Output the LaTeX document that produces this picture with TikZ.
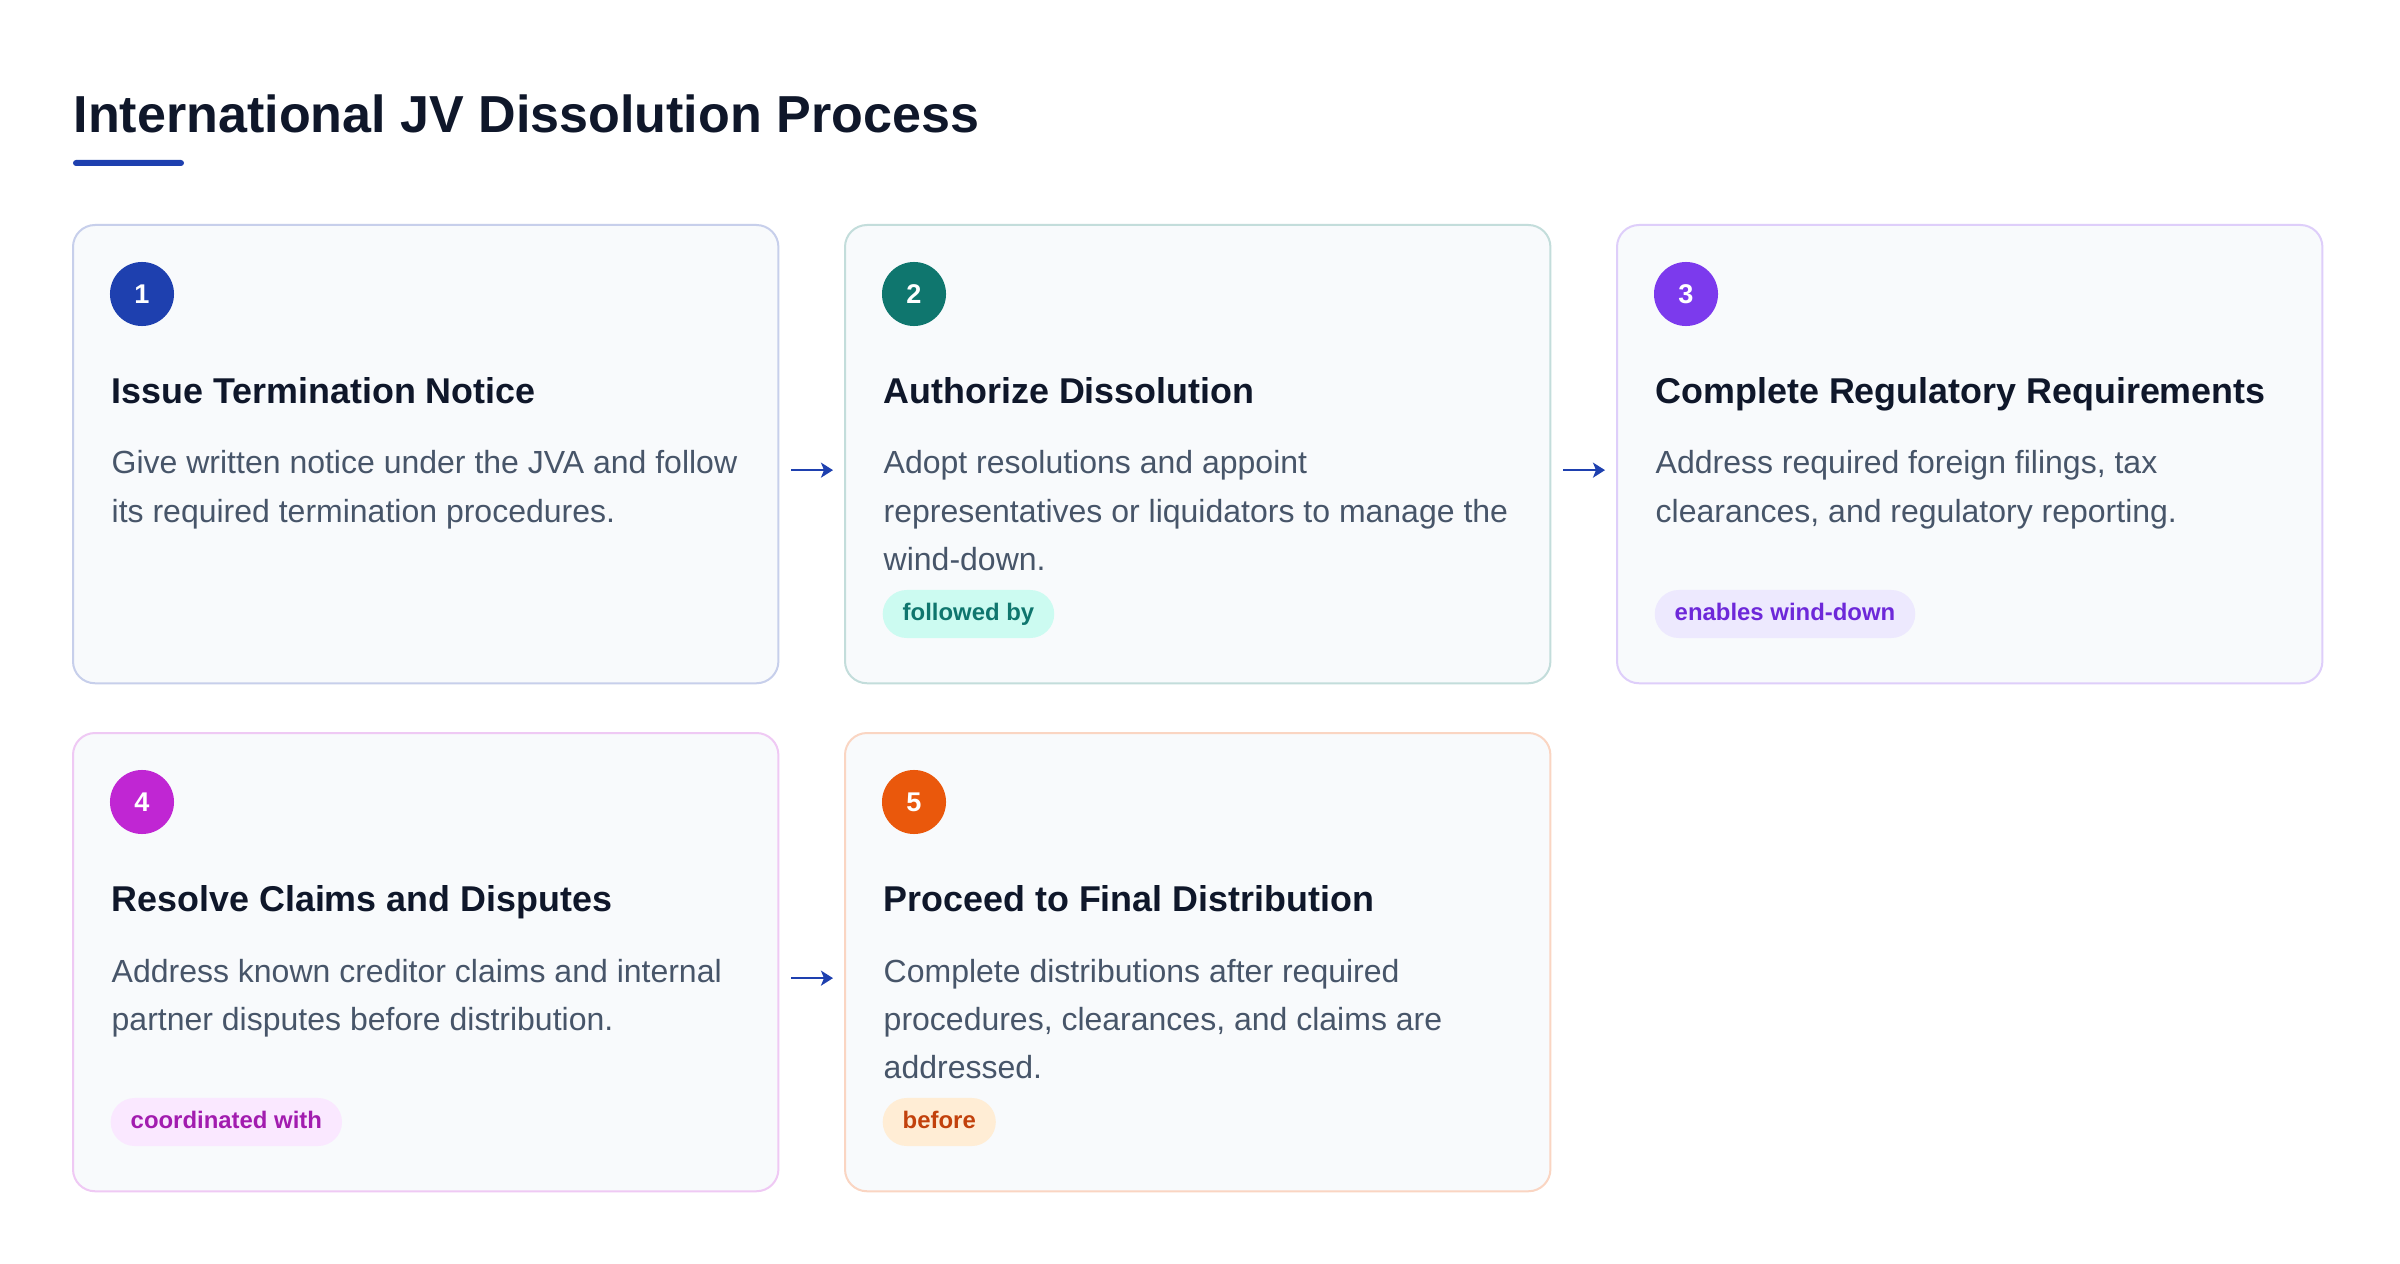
\documentclass[tikz,border=0pt]{standalone}
\usepackage{fontspec}
\setmainfont{Liberation Sans}
\usetikzlibrary{arrows.meta}
\definecolor{ink}{HTML}{0F172A}
\definecolor{gry}{HTML}{475569}
\definecolor{pap}{HTML}{F8FAFC}
\definecolor{c1}{HTML}{1E40AF}
\definecolor{c2}{HTML}{0F766E}
\definecolor{c3}{HTML}{7C3AED}
\definecolor{c4}{HTML}{C026D3}
\definecolor{c5}{HTML}{EA580C}
\definecolor{tb2}{HTML}{CCFBF1} \definecolor{tf2}{HTML}{0F766E}
\definecolor{tb3}{HTML}{EDE9FE} \definecolor{tf3}{HTML}{6D28D9}
\definecolor{tb4}{HTML}{FAE8FF} \definecolor{tf4}{HTML}{A21CAF}
\definecolor{tb5}{HTML}{FFEDD5} \definecolor{tf5}{HTML}{C2410C}
\tikzset{cd/.style = {rectangle, rounded corners=0.22cm, draw=#1!25!white, line width=0.02cm, fill=pap,
                      minimum width=7.05cm, minimum height=4.58cm, inner sep=0pt, outer sep=0pt, anchor=north west},
         nm/.style = {circle, fill=#1, minimum size=0.64cm, inner sep=0pt, text=white,
                      font=\bfseries\fontsize{7.7}{9}\selectfont},
         hd/.style = {anchor=base west, inner sep=0pt, text=ink, font=\bfseries\fontsize{10.2}{12}\selectfont},
         bd/.style = {anchor=base west, inner sep=0pt, text=gry, font=\fontsize{9.1}{13.66}\selectfont},
         tg/.style 2 args = {anchor=west, rounded corners=0.24cm, fill=#1, text=#2, minimum height=0.48cm,
                      inner xsep=0.2cm, inner ysep=0pt, text height=0.175cm, text depth=0.05cm,
                      font=\bfseries\fontsize{6.8}{8}\selectfont},
         fl/.style = {-{Stealth[length=0.12cm, width=0.15cm, inset=0.03cm]}, draw=c1, line width=0.02cm,
                      shorten <=0.13cm, shorten >=0.12cm}}

\begin{document}
\begin{tikzpicture}[x=0.01cm, y=-0.01cm]
    \path[use as bounding box, fill=white] (0,0) rectangle (2400,1264);
    \node[anchor=base west, inner sep=0pt, text=ink, font=\bfseries\fontsize{14.8}{17}\selectfont] (title) at (73,133) {International JV Dissolution Process};
    \fill[c1, rounded corners=0.03cm] (73,160) rectangle (184,166);

    \node[cd=c1] (card1) at (73,225) {};  \node[cd=c2] (card2) at (845,225) {};  \node[cd=c3] (card3) at (1617,225) {};
    \node[cd=c4] (card4) at (73,733) {};  \node[cd=c5] (card5) at (845,733) {};

    \node[nm=c1] (n1) at (142,294) {1};  \node[nm=c2] (n2) at (914,294) {2};  \node[nm=c3] (n3) at (1686,294) {3};
    \node[nm=c4] (n4) at (142,802) {4};  \node[nm=c5] (n5) at (914,802) {5};

    \node[hd] (h1) at (111,403) {Issue Termination Notice};
    \node[hd] (h2) at (883,403) {Authorize Dissolution};
    \node[hd] (h3) at (1655,403) {Complete Regulatory Requirements};
    \node[hd] (h4) at (111,911) {Resolve Claims and Disputes};
    \node[hd] (h5) at (883,911) {Proceed to Final Distribution};

    \node[bd] (b1) at (111,474) {\parbox[t]{6.4cm}{\raggedright Give written notice under the JVA and follow\\its required termination procedures.}};
    \node[bd] (b2) at (883,474) {\parbox[t]{6.4cm}{\raggedright Adopt resolutions and appoint\\representatives or liquidators to manage the\\wind-down.}};
    \node[bd] (b3) at (1655,474) {\parbox[t]{6.4cm}{\raggedright Address required foreign filings, tax\\clearances, and regulatory reporting.}};
    \node[bd] (b4) at (111,982) {\parbox[t]{6.4cm}{\raggedright Address known creditor claims and internal\\partner disputes before distribution.}};
    \node[bd] (b5) at (883,982) {\parbox[t]{6.4cm}{\raggedright Complete distributions after required\\procedures, clearances, and claims are\\addressed.}};

    \node[tg={tb2}{tf2}] (t2) at (882,614) {followed by};
    \node[tg={tb3}{tf3}] (t3) at (1654,614) {enables wind-down};
    \node[tg={tb4}{tf4}] (t4) at (110,1122) {coordinated with};
    \node[tg={tb5}{tf5}] (t5) at (882,1122) {before};

    \draw[fl] ([yshift=-0.16cm]card1.east) -- ([yshift=-0.16cm]card2.west);
    \draw[fl] ([yshift=-0.16cm]card2.east) -- ([yshift=-0.16cm]card3.west);
    \draw[fl] ([yshift=-0.16cm]card4.east) -- ([yshift=-0.16cm]card5.west);
\end{tikzpicture}
\end{document}
